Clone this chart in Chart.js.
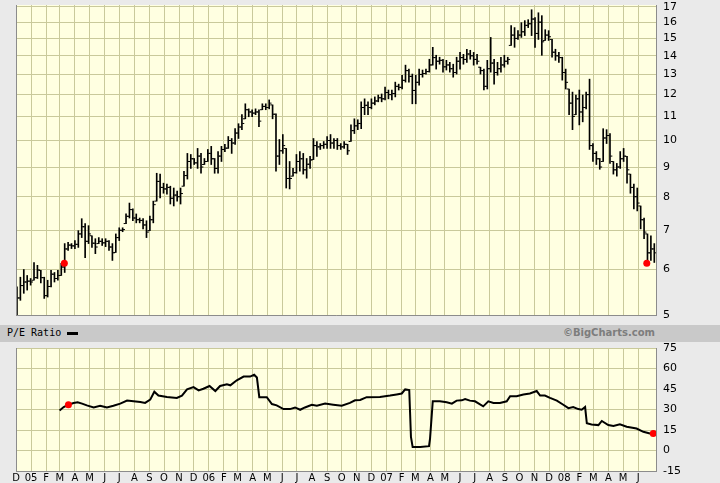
<!DOCTYPE html>
<html>
<head>
<meta charset="utf-8">
<title>Price and P/E Ratio</title>
<script src="https://cdn.jsdelivr.net/npm/chart.js@4.4.0/dist/chart.umd.min.js"></script>
<style>
  html, body { margin: 0; padding: 0; background: #eaeaea; }
  #wrap { position: relative; width: 720px; height: 483px; overflow: hidden; }
  #priceChart { position: absolute; left: 0; top: 0; }
  #peChart { position: absolute; left: 0; top: 340px; }
  #band { position: absolute; left: 0; top: 325px; width: 720px; height: 17px; background: #c9c9c9; }
  #peLabel { position: absolute; left: 7px; top: 2px; font: 10px "DejaVu Sans Mono", monospace; color: #000; }
  #peKey { position: absolute; left: 67px; top: 7px; width: 11px; height: 3px; background: #000; }
  #credit { position: absolute; right: 65px; top: 2px; font: bold 10px "DejaVu Sans", sans-serif; color: #7d7d7d; }
</style>
</head>
<body>
<div id="wrap">
  <canvas id="priceChart" width="720" height="320"></canvas>
  <div id="band">
    <span id="peLabel">P/E Ratio</span>
    <span id="peKey"></span>
    <span id="credit">©BigCharts.com</span>
  </div>
  <canvas id="peChart" width="720" height="143"></canvas>
</div>
<script>
// weekly bars, week 0 = week ending Dec 3 2004
var priceHigh = [5.59, 5.81, 5.99, 5.85, 5.78, 6.16, 6.09, 5.97, 5.81, 5.74, 5.97, 5.92, 5.97, 6.14, 6.64, 6.67, 6.64, 6.72, 6.99, 7.33,
    7.19, 7.13, 6.85, 6.77, 6.80, 6.77, 6.77, 6.72, 6.64, 6.90, 7.07, 7.07, 7.47, 7.80, 7.62, 7.47, 7.35, 7.33, 7.27, 7.41,
    7.86, 8.78, 8.75, 8.44, 8.41, 8.34, 8.28, 8.18, 8.28, 8.85, 9.50, 9.46, 9.31, 9.69, 9.50, 9.31, 9.65, 9.77, 9.31, 9.57,
    9.77, 9.85, 10.16, 10.08, 10.48, 10.69,
    11.08, 11.57, 11.34, 11.30, 11.34, 11.30, 11.57, 11.57, 11.75, 11.52, 11.12, 10.04, 10.24, 9.69, 9.20, 8.95, 9.46, 9.57,
    9.50, 9.31, 9.39, 10.08, 9.96, 9.88, 9.96, 10.16, 10.24, 10.08, 10.08, 9.88, 9.96, 9.85, 10.64, 10.90, 10.86, 11.66,
    11.80, 11.66, 11.80, 11.89, 11.98, 12.03, 12.37, 12.22, 12.22, 12.61, 12.51, 12.96, 13.49, 13.28, 13.02, 12.96, 13.28,
    13.23, 13.28, 13.81, 14.48, 14.03, 13.92, 13.81, 13.75, 13.64, 13.54, 13.92, 14.19, 14.08, 14.37, 14.31, 14.19, 14.08,
    13.38, 13.28, 13.75, 15.06, 13.81, 13.64, 13.92, 14.03, 13.92, 15.78, 15.66, 15.47, 15.97, 16.10, 16.16, 16.81, 16.29,
    16.61, 16.42, 15.53, 15.47, 14.94, 14.37, 14.19, 13.92, 13.28, 12.27, 12.12, 11.98, 12.22, 11.98, 12.12, 12.76, 9.88,
    9.57, 9.31, 10.48, 10.44, 10.28, 9.20, 9.13, 9.57, 9.69, 9.39, 8.75, 8.41, 8.28, 7.71, 7.35, 6.90, 6.85, 6.64];
var priceLow = [5.00, 5.30, 5.45, 5.52, 5.63, 5.74, 5.78, 5.68, 5.34, 5.37, 5.59, 5.70, 5.74, 5.85, 5.92, 6.46, 6.51, 6.51, 6.54, 6.80,
    6.28, 6.64, 6.54, 6.38, 6.64, 6.59, 6.56, 6.46, 6.21, 6.41, 6.72, 6.96, 7.19, 7.35, 7.27, 7.21, 7.21, 7.04, 6.80, 6.99,
    7.21, 7.86, 7.96, 8.11, 8.08, 7.77, 7.71, 7.86, 7.77, 8.34, 8.58, 8.95, 9.09, 8.95, 8.78, 9.09, 9.20, 9.09, 8.78, 8.78,
    9.20, 9.57, 9.69, 9.50, 9.85, 10.08,
    10.44, 10.90, 10.99, 10.99, 11.08, 10.56, 11.30, 11.30, 11.34, 10.90, 8.85, 9.09, 9.50, 8.28, 8.25, 8.68, 8.78, 8.85,
    8.75, 8.61, 8.95, 9.27, 9.39, 9.65, 9.69, 9.69, 9.69, 9.69, 9.65, 9.65, 9.69, 9.46, 9.96, 10.28, 10.44, 10.48,
    11.08, 11.08, 11.34, 11.52, 11.66, 11.66, 11.75, 11.80, 11.75, 11.89, 12.22, 12.27, 12.61, 12.61, 11.57, 11.57, 12.46,
    12.86, 13.02, 13.12, 13.49, 13.28, 13.54, 13.12, 13.23, 13.12, 12.86, 13.02, 13.28, 13.54, 13.64, 13.81, 13.49, 13.54,
    13.02, 12.22, 12.27, 13.12, 12.51, 12.96, 13.12, 13.38, 13.54, 14.59, 14.48, 14.94, 15.06, 15.17, 15.66, 15.17, 14.48,
    14.94, 14.03, 14.88, 14.88, 13.92, 13.75, 13.64, 12.71, 12.27, 11.08, 10.44, 11.08, 10.64, 10.77, 11.34, 9.65, 9.20,
    9.09, 8.92, 9.20, 9.88, 9.13, 8.75, 8.68, 8.95, 9.20, 8.44, 8.11, 7.62, 7.56, 7.04, 6.77, 6.16, 6.21, 6.16];
var priceClose = [5.35, 5.62, 5.70, 5.72, 5.70, 5.80, 5.98, 5.80, 5.40, 5.60, 5.88, 5.78, 5.85, 6.05, 6.50, 6.60, 6.58, 6.62, 6.90, 7.10,
    6.70, 6.90, 6.65, 6.55, 6.70, 6.66, 6.70, 6.55, 6.40, 6.80, 7.00, 7.02, 7.40, 7.60, 7.35, 7.30, 7.28, 7.15, 6.95, 7.30,
    7.75, 8.50, 8.30, 8.25, 8.30, 7.95, 8.05, 8.00, 8.10, 8.70, 9.20, 9.30, 9.15, 9.40, 9.00, 9.20, 9.50, 9.30, 8.95, 9.40,
    9.65, 9.70, 10.00, 9.90, 10.30, 10.55,
    10.70, 11.30, 11.20, 11.15, 11.20, 10.80, 11.45, 11.40, 11.60, 11.10, 9.40, 9.60, 9.80, 8.60, 8.60, 8.80, 9.20, 9.30,
    8.90, 9.10, 9.25, 9.80, 9.75, 9.80, 9.85, 10.00, 9.90, 10.00, 9.80, 9.75, 9.85, 9.60, 10.40, 10.60, 10.70, 11.40,
    11.50, 11.40, 11.60, 11.70, 11.85, 11.80, 12.10, 12.00, 12.05, 12.40, 12.35, 12.70, 13.20, 12.90, 12.20, 12.60, 13.00,
    13.05, 13.15, 13.50, 13.90, 13.70, 13.75, 13.40, 13.50, 13.30, 13.10, 13.70, 13.90, 13.80, 14.10, 14.00, 13.80, 13.70,
    13.20, 12.40, 13.30, 13.60, 13.10, 13.30, 13.50, 13.70, 13.80, 15.20, 15.00, 15.20, 15.40, 15.80, 15.90, 16.20, 15.30,
    16.00, 14.80, 15.20, 15.10, 14.20, 14.00, 13.90, 13.10, 12.60, 11.60, 11.00, 11.80, 11.20, 11.40, 12.00, 9.80, 9.50,
    9.30, 9.00, 10.10, 10.20, 9.40, 8.90, 9.00, 9.30, 9.40, 8.90, 8.30, 8.00, 7.80, 7.30, 6.95, 6.40, 6.50, 6.40];

// P/E ratio, position in weeks from the same start
var peWeek = [12.5, 13.7, 15.1, 16.6, 17.8, 19.1, 20.5, 22.5, 24.4, 26.4, 28.3, 30.3, 32.3, 34.2, 36.2, 37.6, 39.1, 40.3,
    41.5, 44, 46.9, 48.4, 49.9, 51.8, 53.3, 54.7, 56.5, 58.2, 59.6, 61.6, 62.6, 64.5, 66.5, 68.4, 69.6, 70.4, 71.1, 73.3,
    74.8, 76.2, 78.2, 80.1, 81.6, 83.1, 84.5, 86.5, 88, 90.4, 92.8, 95.3, 97.7, 99.2, 100.7, 102.6, 106.5, 109.5, 111.4,
    112.9, 113.9, 115.1, 115.6, 116.1, 118.3, 120.9, 121.2, 122, 124.1, 126.1, 127.6, 129, 130.5, 131.5, 132.9, 134.4,
    136.8, 138.3, 139.8, 141.7, 143.7, 144.7, 146.6, 148.6, 150.5, 152.5, 153.5, 154.9, 156.4, 158.4, 160.3, 161.8, 163.2,
    164.7, 165.7, 166.7, 167.2, 168.6, 170.6, 171.6, 173.5, 175, 176.9, 178.9, 181.8, 183.8, 185.7, 186.7];
var peValue = [29.3, 31.8, 33.5, 34.8, 35.3, 34.3, 33, 31.5, 32.8, 31.5, 32.8, 34.3, 36.5, 36, 35.5, 34.8, 37.2, 43,
    40.2, 39.2, 38.5, 40.2, 44.7, 46.4, 44, 45.2, 47.2, 43.5, 47.2, 48.4, 47.7, 51.4, 54.1, 54.1, 55.4, 53.4, 39, 39,
    34, 33, 30.3, 30.3, 31.5, 29.8, 31.5, 33.5, 32.8, 34.3, 33.5, 32.8, 34.8, 36.7, 37, 39, 39.2, 40.2, 41,
    41.7, 44.7, 44.2, 9.9, 2.5, 2.5, 3.2, 8.7, 36, 36, 35.3, 34.3, 36.5, 36.7, 37.7, 36.5, 36,
    32.3, 36, 34.8, 34.8, 36, 39.7, 39.7, 41, 41.7, 43.5, 40.2, 40.2, 38.5, 36.5, 33.5, 31, 31.8,
    30.3, 29.8, 31.8, 19.9, 19.1, 18.6, 21.6, 18.6, 17.9, 19.1, 17.4, 16.1, 13.7, 12.4, 12.4];

// red markers
var priceMarkWeek = [13.9, 184.8];
var priceMarkValue = [6.14, 6.14];
var peMarkWeek = [15.1, 186.7];
var peMarkValue = [33.5, 12.4];

// axes
var monthLabels = ['D', '05', 'F', 'M', 'A', 'M', 'J', 'J', 'A', 'S', 'O', 'N',
    'D', '06', 'F', 'M', 'A', 'M', 'J', 'J', 'A', 'S', 'O', 'N',
    'D', '07', 'F', 'M', 'A', 'M', 'J', 'J', 'A', 'S', 'O', 'N',
    'D', '08', 'F', 'M', 'A', 'M', 'J'];
var priceTicks = [5, 6, 7, 8, 9, 10, 11, 12, 13, 14, 15, 16, 17];
var peTicks = [-15, 0, 15, 30, 45, 60, 75];

var startDay = new Date(2004, 11, 3);
function weekOf(d) {
    return Math.round((d - startDay) / 864e5) / 7;
}
var monthTicks = monthLabels.map(function(l, k) {
    return weekOf(new Date(2004, 11 + k, 1));
});
var xMin = monthTicks[0];
var xMax = 187.5;

var gridColor = '#c9c99b';
var frameColor = '#8c8c8c';
var tickFont = { family: 'DejaVu Sans', size: 11 };

// plot background + left frame line
var plotFrame = {
    id: 'plotFrame',
    beforeDraw: function(chart) {
        var a = chart.chartArea, ctx = chart.ctx;
        ctx.save();
        ctx.fillStyle = '#ffffe1';
        ctx.fillRect(a.left, a.top, a.right - a.left, a.bottom - a.top);
        ctx.restore();
    },
    afterDraw: function(chart) {
        var a = chart.chartArea, ctx = chart.ctx;
        ctx.save();
        ctx.strokeStyle = frameColor;
        ctx.lineWidth = 1;
        ctx.beginPath();
        ctx.moveTo(a.left + 0.5, a.top);
        ctx.lineTo(a.left + 0.5, a.bottom);
        ctx.stroke();
        ctx.restore();
    }
};

// keep the tick labels from pushing the plot area in
function noLabelPadding(s) {
    s.paddingTop = 0;
    s.paddingBottom = 0;
    s.paddingLeft = 0;
    s.paddingRight = 0;
}

function xScale(showLabels) {
    return {
        type: 'linear',
        min: xMin,
        max: xMax,
        offset: false,
        afterBuildTicks: function(s) {
            s.ticks = monthTicks.map(function(v) { return { value: v }; });
        },
        afterFit: function(s) {
            s.height = showLabels ? 12 : 0;
            noLabelPadding(s);
        },
        ticks: {
            display: showLabels,
            autoSkip: false,
            maxRotation: 0,
            padding: 1,
            color: '#000',
            font: { family: 'DejaVu Sans', size: 10 },
            callback: function(v, i) { return monthLabels[i]; }
        },
        grid: { color: gridColor, drawTicks: false, offset: false },
        border: { color: frameColor }
    };
}

var bars = [], openPts = [], closePts = [];
for (var i = 0; i < priceHigh.length; i++) {
    var prev = i === 0 ? priceClose[0] : priceClose[i - 1];
    var open = Math.min(Math.max(prev, priceLow[i]), priceHigh[i]);
    bars.push({ x: i, y: [priceLow[i], priceHigh[i]] });
    openPts.push({ x: i - 0.4, y: open });
    closePts.push({ x: i + 0.4, y: priceClose[i] });
}

new Chart(document.getElementById('priceChart'), {
    type: 'bar',
    data: {
        datasets: [{
            type: 'bar',
            data: bars,
            backgroundColor: '#000',
            borderWidth: 0,
            barThickness: 1,
            grouped: false,
            order: 3
        }, {
            type: 'scatter',
            data: openPts,
            pointStyle: 'line',
            pointRadius: 1,
            pointBorderColor: '#000',
            pointBorderWidth: 1,
            order: 2
        }, {
            type: 'scatter',
            data: closePts,
            pointStyle: 'line',
            pointRadius: 1,
            pointBorderColor: '#000',
            pointBorderWidth: 1,
            order: 2
        }, {
            type: 'scatter',
            data: priceMarkWeek.map(function(w, k) { return { x: w, y: priceMarkValue[k] }; }),
            pointRadius: 3.5,
            pointBackgroundColor: '#ff0000',
            pointBorderColor: '#ff0000',
            pointBorderWidth: 0,
            order: 1
        }]
    },
    options: {
        responsive: false,
        animation: false,
        layout: { padding: { left: 16, top: 3, right: 0, bottom: 4 } },
        plugins: { legend: { display: false }, tooltip: { enabled: false } },
        scales: {
            x: xScale(false),
            y: {
                type: 'logarithmic',
                position: 'right',
                min: 5,
                max: 17.13,
                afterBuildTicks: function(s) {
                    s.ticks = priceTicks.map(function(v) { return { value: v }; });
                },
                afterFit: function(s) {
                    s.width = 64;
                    noLabelPadding(s);
                },
                ticks: { padding: 7, color: '#000', font: tickFont, callback: function(v) { return v; } },
                grid: { color: gridColor, drawTicks: false },
                border: { color: frameColor }
            }
        }
    },
    plugins: [plotFrame]
});

new Chart(document.getElementById('peChart'), {
    type: 'line',
    data: {
        datasets: [{
            data: peWeek.map(function(w, k) { return { x: w, y: peValue[k] }; }),
            borderColor: '#000',
            borderWidth: 2,
            pointRadius: 0,
            tension: 0,
            order: 2
        }, {
            type: 'scatter',
            data: peMarkWeek.map(function(w, k) { return { x: w, y: peMarkValue[k] }; }),
            pointRadius: 3.5,
            pointBackgroundColor: '#ff0000',
            pointBorderColor: '#ff0000',
            pointBorderWidth: 0,
            order: 1
        }]
    },
    options: {
        responsive: false,
        animation: false,
        layout: { padding: { left: 16, top: 8, right: 0, bottom: 0 } },
        plugins: { legend: { display: false }, tooltip: { enabled: false } },
        scales: {
            x: xScale(true),
            y: {
                type: 'linear',
                position: 'right',
                min: -15,
                max: 75,
                afterBuildTicks: function(s) {
                    s.ticks = peTicks.map(function(v) { return { value: v }; });
                },
                afterFit: function(s) {
                    s.width = 64;
                    noLabelPadding(s);
                },
                ticks: { padding: 7, color: '#000', font: tickFont },
                grid: { color: gridColor, drawTicks: false },
                border: { color: frameColor }
            }
        }
    },
    plugins: [plotFrame]
});
</script>
</body>
</html>
